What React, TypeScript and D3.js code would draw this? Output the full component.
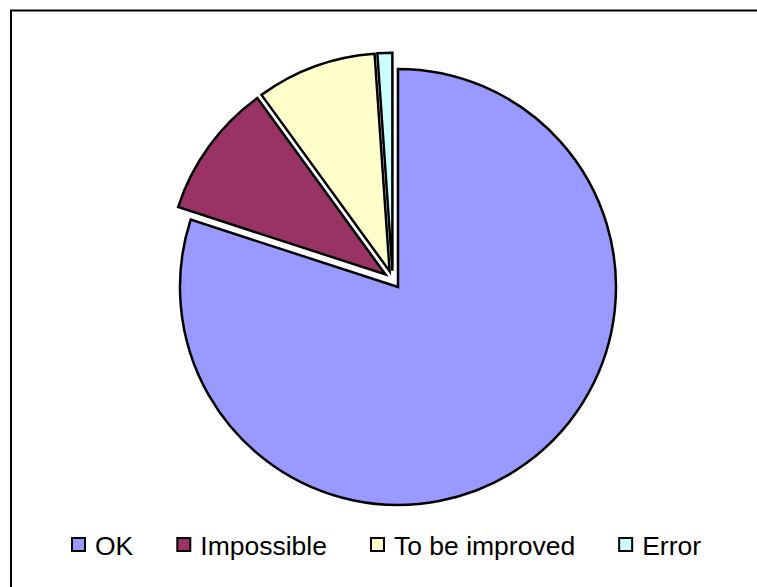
import * as d3 from 'd3'
import { useEffect, useRef } from 'react'

const WIDTH = 757
const HEIGHT = 587

const categories = ['OK', 'Impossible', 'To be improved', 'Error']
const values = [80, 10, 8.9, 1.1]
const colorCodes = ['#9999FF', '#993366', '#FFFFCC', '#CCFFFF']

const CENTER = { X: 392.7, Y: 279.7 }
const RADIUS = 218
const EXPLODE = 9

const drawPieChart = (node: SVGSVGElement) => {
  const svg = d3.select(node)
  svg.selectAll('*').remove()

  // chart area border (right/bottom edges fall outside the picture)
  svg.append('rect')
    .attr('x', 11)
    .attr('y', 10.5)
    .attr('width', 800)
    .attr('height', 700)
    .attr('fill', 'white')
    .attr('stroke', 'black')
    .attr('stroke-width', 2)

  const data = categories.map((name, i) => ({ name, value: values[i] }))

  const pie = d3.pie<{ name: string, value: number }>()
    .sort(null)
    .value((d) => d.value)

  const arc = d3.arc<d3.PieArcDatum<{ name: string, value: number }>>()
    .innerRadius(0)
    .outerRadius(RADIUS)

  const color = d3.scaleOrdinal<string, string>()
    .domain(categories)
    .range(colorCodes)

  svg.append('g')
    .attr('transform', `translate(${CENTER.X},${CENTER.Y})`)
    .selectAll('path')
    .data(pie(data))
    .enter()
    .append('path')
    .attr('transform', (d) => {
      const mid = (d.startAngle + d.endAngle) / 2
      return `translate(${Math.sin(mid) * EXPLODE},${-Math.cos(mid) * EXPLODE})`
    })
    .attr('d', arc)
    .attr('fill', (d) => color(d.data.name))
    .attr('stroke', 'black')
    .attr('stroke-width', 2.5)
    .attr('stroke-linejoin', 'miter')

  // legend
  const gLegend = svg.append('g')
  let x = 72
  const legendY = 545
  categories.forEach((name, i) => {
    gLegend.append('rect')
      .attr('x', x)
      .attr('y', legendY - 7)
      .attr('width', 13)
      .attr('height', 13)
      .attr('fill', colorCodes[i])
      .attr('stroke', 'black')
      .attr('stroke-width', 2)
    const label = gLegend.append('text')
      .attr('x', x + 23)
      .attr('y', legendY + 9.5)
      .style('font-size', '26.5px')
      .style('font-family', '"Liberation Sans", Arial, sans-serif')
      .style('fill', 'black')
      .text(name)
    const w = (label.node() as SVGTextElement).getComputedTextLength()
    x = x + 23 + w + 44
  })
}

export default function App() {
  const ref = useRef<SVGSVGElement>(null)

  useEffect(() => {
    if (ref.current) drawPieChart(ref.current)
  }, [])

  return <svg
    ref={ref}
    width={WIDTH}
    height={HEIGHT}
    style={{ position: 'absolute', left: 0, top: 0 }}
  />
}
